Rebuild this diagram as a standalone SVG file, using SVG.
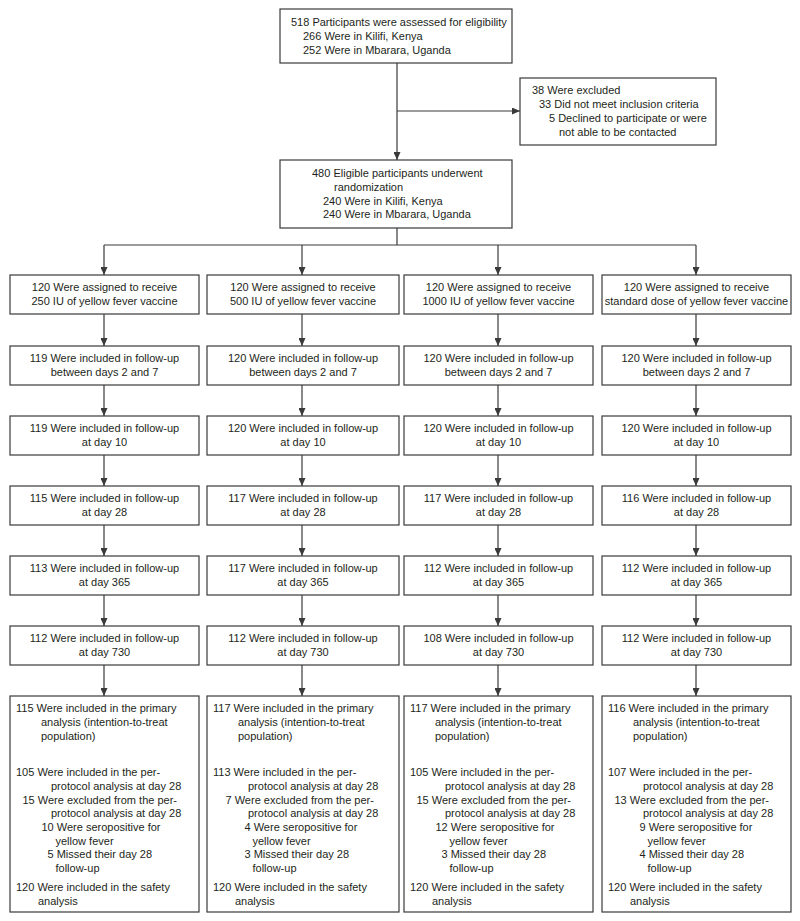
<svg xmlns="http://www.w3.org/2000/svg" width="800" height="921" viewBox="0 0 800 921">
<style>
.b{fill:#fff;stroke:#3a3a3a;stroke-width:1.2}
.t{font-family:"Liberation Sans",Arial,sans-serif;font-size:11px;fill:#231f20}
.c{text-anchor:middle}
.l{fill:none;stroke:#3a3a3a;stroke-width:1.2}
</style>
<defs>
<marker id="ah" markerUnits="userSpaceOnUse" markerWidth="8" markerHeight="7" refX="8" refY="3.5" orient="auto"><path d="M0,0 L8,3.5 L0,7 z" fill="#3a3a3a"/></marker>
</defs>
<rect width="800" height="921" fill="#fff"/>
<g id="connectors" class="l">
<line x1="397" y1="63" x2="397" y2="160" marker-end="url(#ah)"/>
<line x1="397" y1="111" x2="520" y2="111" marker-end="url(#ah)"/>
<line x1="397" y1="228" x2="397" y2="245"/>
<line x1="104" y1="245" x2="696" y2="245"/>
<line x1="104" y1="245" x2="104" y2="275" marker-end="url(#ah)"/>
<line x1="302" y1="245" x2="302" y2="275" marker-end="url(#ah)"/>
<line x1="498" y1="245" x2="498" y2="275" marker-end="url(#ah)"/>
<line x1="696" y1="245" x2="696" y2="275" marker-end="url(#ah)"/>
<g id="col1-arrows">
<line x1="104" y1="314" x2="104" y2="346" marker-end="url(#ah)"/>
<line x1="104" y1="385" x2="104" y2="416" marker-end="url(#ah)"/>
<line x1="104" y1="455" x2="104" y2="486" marker-end="url(#ah)"/>
<line x1="104" y1="525" x2="104" y2="556" marker-end="url(#ah)"/>
<line x1="104" y1="595" x2="104" y2="626" marker-end="url(#ah)"/>
<line x1="104" y1="665" x2="104" y2="696" marker-end="url(#ah)"/>
</g>
<g id="col2-arrows">
<line x1="302" y1="314" x2="302" y2="346" marker-end="url(#ah)"/>
<line x1="302" y1="385" x2="302" y2="416" marker-end="url(#ah)"/>
<line x1="302" y1="455" x2="302" y2="486" marker-end="url(#ah)"/>
<line x1="302" y1="525" x2="302" y2="556" marker-end="url(#ah)"/>
<line x1="302" y1="595" x2="302" y2="626" marker-end="url(#ah)"/>
<line x1="302" y1="665" x2="302" y2="696" marker-end="url(#ah)"/>
</g>
<g id="col3-arrows">
<line x1="498" y1="314" x2="498" y2="346" marker-end="url(#ah)"/>
<line x1="498" y1="385" x2="498" y2="416" marker-end="url(#ah)"/>
<line x1="498" y1="455" x2="498" y2="486" marker-end="url(#ah)"/>
<line x1="498" y1="525" x2="498" y2="556" marker-end="url(#ah)"/>
<line x1="498" y1="595" x2="498" y2="626" marker-end="url(#ah)"/>
<line x1="498" y1="665" x2="498" y2="696" marker-end="url(#ah)"/>
</g>
<g id="col4-arrows">
<line x1="696" y1="314" x2="696" y2="346" marker-end="url(#ah)"/>
<line x1="696" y1="385" x2="696" y2="416" marker-end="url(#ah)"/>
<line x1="696" y1="455" x2="696" y2="486" marker-end="url(#ah)"/>
<line x1="696" y1="525" x2="696" y2="556" marker-end="url(#ah)"/>
<line x1="696" y1="595" x2="696" y2="626" marker-end="url(#ah)"/>
<line x1="696" y1="665" x2="696" y2="696" marker-end="url(#ah)"/>
</g>
</g>

<g id="assessed">
<rect class="b" x="280" y="9" width="232" height="54"/>
<text class="t" x="291" y="26">518 Participants were assessed for eligibility</text>
<text class="t" x="303" y="40">266 Were in Kilifi, Kenya</text>
<text class="t" x="303" y="54">252 Were in Mbarara, Uganda</text>
</g>
<g id="excluded">
<rect class="b" x="520" y="78" width="196" height="67"/>
<text class="t" x="532" y="94">38 Were excluded</text>
<text class="t" x="539" y="108">33 Did not meet inclusion criteria</text>
<text class="t" x="549" y="122">5 Declined to participate or were</text>
<text class="t" x="559" y="136">not able to be contacted</text>
</g>
<g id="randomized">
<rect class="b" x="280" y="160" width="232" height="68"/>
<text class="t" x="312" y="177">480 Eligible participants underwent</text>
<text class="t" x="334" y="191">randomization</text>
<text class="t" x="323" y="205">240 Were in Kilifi, Kenya</text>
<text class="t" x="323" y="218">240 Were in Mbarara, Uganda</text>
</g>

<!-- Column 1 -->
<g id="c1-assigned"><rect class="b" x="10" y="275" width="189" height="39"/>
<text class="t c" x="104.5" y="291">120 Were assigned to receive</text><text class="t c" x="104.5" y="305">250 IU of yellow fever vaccine</text></g>
<g id="c1-d2"><rect class="b" x="10" y="346" width="189" height="39"/>
<text class="t c" x="104.5" y="362">119 Were included in follow-up</text><text class="t c" x="104.5" y="376">between days 2 and 7</text></g>
<g id="c1-d10"><rect class="b" x="10" y="416" width="189" height="39"/>
<text class="t c" x="104.5" y="432">119 Were included in follow-up</text><text class="t c" x="104.5" y="446">at day 10</text></g>
<g id="c1-d28"><rect class="b" x="10" y="486" width="189" height="39"/>
<text class="t c" x="104.5" y="502">115 Were included in follow-up</text><text class="t c" x="104.5" y="516">at day 28</text></g>
<g id="c1-d365"><rect class="b" x="10" y="556" width="189" height="39"/>
<text class="t c" x="104.5" y="572">113 Were included in follow-up</text><text class="t c" x="104.5" y="586">at day 365</text></g>
<g id="c1-d730"><rect class="b" x="10" y="626" width="189" height="39"/>
<text class="t c" x="104.5" y="642">112 Were included in follow-up</text><text class="t c" x="104.5" y="656">at day 730</text></g>
<g id="c1-analysis"><rect class="b" x="10" y="696" width="189" height="216"/>
<text class="t" x="16" y="712">115 Were included in the primary</text>
<text class="t" x="41" y="726">analysis (intention-to-treat</text>
<text class="t" x="41" y="739.5">population)</text>
<text class="t" x="16" y="776">105 Were included in the per-</text>
<text class="t" x="51" y="790">protocol analysis at day 28</text>
<text class="t" x="22.5" y="803.5">15 Were excluded from the per-</text>
<text class="t" x="51" y="817">protocol analysis at day 28</text>
<text class="t" x="41.5" y="831">10 Were seropositive for</text>
<text class="t" x="55.5" y="844.5">yellow fever</text>
<text class="t" x="47.5" y="858">5 Missed their day 28</text>
<text class="t" x="55.5" y="871.5">follow-up</text>
<text class="t" x="16" y="891">120 Were included in the safety</text>
<text class="t" x="38" y="905">analysis</text></g>

<!-- Column 2 -->
<g id="c2-assigned"><rect class="b" x="207" y="275" width="192" height="39"/>
<text class="t c" x="303" y="291">120 Were assigned to receive</text><text class="t c" x="303" y="305">500 IU of yellow fever vaccine</text></g>
<g id="c2-d2"><rect class="b" x="207" y="346" width="192" height="39"/>
<text class="t c" x="303" y="362">120 Were included in follow-up</text><text class="t c" x="303" y="376">between days 2 and 7</text></g>
<g id="c2-d10"><rect class="b" x="207" y="416" width="192" height="39"/>
<text class="t c" x="303" y="432">120 Were included in follow-up</text><text class="t c" x="303" y="446">at day 10</text></g>
<g id="c2-d28"><rect class="b" x="207" y="486" width="192" height="39"/>
<text class="t c" x="303" y="502">117 Were included in follow-up</text><text class="t c" x="303" y="516">at day 28</text></g>
<g id="c2-d365"><rect class="b" x="207" y="556" width="192" height="39"/>
<text class="t c" x="303" y="572">117 Were included in follow-up</text><text class="t c" x="303" y="586">at day 365</text></g>
<g id="c2-d730"><rect class="b" x="207" y="626" width="192" height="39"/>
<text class="t c" x="303" y="642">112 Were included in follow-up</text><text class="t c" x="303" y="656">at day 730</text></g>
<g id="c2-analysis"><rect class="b" x="207" y="696" width="192" height="216"/>
<text class="t" x="213" y="712">117 Were included in the primary</text>
<text class="t" x="238" y="726">analysis (intention-to-treat</text>
<text class="t" x="238" y="739.5">population)</text>
<text class="t" x="213" y="776">113 Were included in the per-</text>
<text class="t" x="248" y="790">protocol analysis at day 28</text>
<text class="t" x="225.5" y="803.5">7 Were excluded from the per-</text>
<text class="t" x="248" y="817">protocol analysis at day 28</text>
<text class="t" x="244.5" y="831">4 Were seropositive for</text>
<text class="t" x="252.5" y="844.5">yellow fever</text>
<text class="t" x="244.5" y="858">3 Missed their day 28</text>
<text class="t" x="252.5" y="871.5">follow-up</text>
<text class="t" x="213" y="891">120 Were included in the safety</text>
<text class="t" x="235" y="905">analysis</text></g>

<!-- Column 3 -->
<g id="c3-assigned"><rect class="b" x="404" y="275" width="189" height="39"/>
<text class="t c" x="498.5" y="291">120 Were assigned to receive</text><text class="t c" x="498.5" y="305">1000 IU of yellow fever vaccine</text></g>
<g id="c3-d2"><rect class="b" x="404" y="346" width="189" height="39"/>
<text class="t c" x="498.5" y="362">120 Were included in follow-up</text><text class="t c" x="498.5" y="376">between days 2 and 7</text></g>
<g id="c3-d10"><rect class="b" x="404" y="416" width="189" height="39"/>
<text class="t c" x="498.5" y="432">120 Were included in follow-up</text><text class="t c" x="498.5" y="446">at day 10</text></g>
<g id="c3-d28"><rect class="b" x="404" y="486" width="189" height="39"/>
<text class="t c" x="498.5" y="502">117 Were included in follow-up</text><text class="t c" x="498.5" y="516">at day 28</text></g>
<g id="c3-d365"><rect class="b" x="404" y="556" width="189" height="39"/>
<text class="t c" x="498.5" y="572">112 Were included in follow-up</text><text class="t c" x="498.5" y="586">at day 365</text></g>
<g id="c3-d730"><rect class="b" x="404" y="626" width="189" height="39"/>
<text class="t c" x="498.5" y="642">108 Were included in follow-up</text><text class="t c" x="498.5" y="656">at day 730</text></g>
<g id="c3-analysis"><rect class="b" x="404" y="696" width="189" height="216"/>
<text class="t" x="410" y="712">117 Were included in the primary</text>
<text class="t" x="435" y="726">analysis (intention-to-treat</text>
<text class="t" x="435" y="739.5">population)</text>
<text class="t" x="410" y="776">105 Were included in the per-</text>
<text class="t" x="445" y="790">protocol analysis at day 28</text>
<text class="t" x="416.5" y="803.5">15 Were excluded from the per-</text>
<text class="t" x="445" y="817">protocol analysis at day 28</text>
<text class="t" x="435.5" y="831">12 Were seropositive for</text>
<text class="t" x="449.5" y="844.5">yellow fever</text>
<text class="t" x="441.5" y="858">3 Missed their day 28</text>
<text class="t" x="449.5" y="871.5">follow-up</text>
<text class="t" x="410" y="891">120 Were included in the safety</text>
<text class="t" x="432" y="905">analysis</text></g>

<!-- Column 4 -->
<g id="c4-assigned"><rect class="b" x="602" y="275" width="189" height="39"/>
<text class="t c" x="696.5" y="291">120 Were assigned to receive</text><text class="t c" x="696.5" y="305">standard dose of yellow fever vaccine</text></g>
<g id="c4-d2"><rect class="b" x="602" y="346" width="189" height="39"/>
<text class="t c" x="696.5" y="362">120 Were included in follow-up</text><text class="t c" x="696.5" y="376">between days 2 and 7</text></g>
<g id="c4-d10"><rect class="b" x="602" y="416" width="189" height="39"/>
<text class="t c" x="696.5" y="432">120 Were included in follow-up</text><text class="t c" x="696.5" y="446">at day 10</text></g>
<g id="c4-d28"><rect class="b" x="602" y="486" width="189" height="39"/>
<text class="t c" x="696.5" y="502">116 Were included in follow-up</text><text class="t c" x="696.5" y="516">at day 28</text></g>
<g id="c4-d365"><rect class="b" x="602" y="556" width="189" height="39"/>
<text class="t c" x="696.5" y="572">112 Were included in follow-up</text><text class="t c" x="696.5" y="586">at day 365</text></g>
<g id="c4-d730"><rect class="b" x="602" y="626" width="189" height="39"/>
<text class="t c" x="696.5" y="642">112 Were included in follow-up</text><text class="t c" x="696.5" y="656">at day 730</text></g>
<g id="c4-analysis"><rect class="b" x="602" y="696" width="189" height="216"/>
<text class="t" x="608" y="712">116 Were included in the primary</text>
<text class="t" x="633" y="726">analysis (intention-to-treat</text>
<text class="t" x="633" y="739.5">population)</text>
<text class="t" x="608" y="776">107 Were included in the per-</text>
<text class="t" x="643" y="790">protocol analysis at day 28</text>
<text class="t" x="614.5" y="803.5">13 Were excluded from the per-</text>
<text class="t" x="643" y="817">protocol analysis at day 28</text>
<text class="t" x="639.5" y="831">9 Were seropositive for</text>
<text class="t" x="647.5" y="844.5">yellow fever</text>
<text class="t" x="639.5" y="858">4 Missed their day 28</text>
<text class="t" x="647.5" y="871.5">follow-up</text>
<text class="t" x="608" y="891">120 Were included in the safety</text>
<text class="t" x="630" y="905">analysis</text></g>
</svg>
